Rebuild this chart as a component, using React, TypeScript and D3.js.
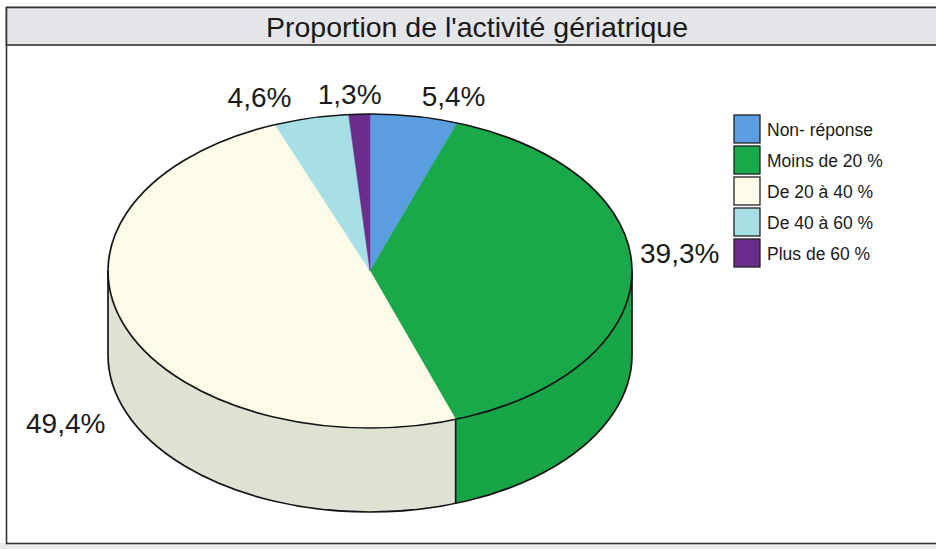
import React, { useEffect, useRef } from "react";
import * as d3 from "d3";

// chart data
const categories = ["Non- réponse", "Moins de 20 %", "De 20 à 40 %", "De 40 à 60 %", "Plus de 60 %"];
const shares = [5.4, 39.3, 49.4, 4.6, 1.3];
const chartTitle = "Proportion de l'activité gériatrique";

const topColors = ["#5B9EE0", "#19A94B", "#FDFBE8", "#A6DFE6", "#6A2D8C"];
const sideColors = ["#4A8BCB", "#17A548", "#DFE2D3", "#92CCD4", "#5A2478"];

const W = 936;
const H = 549;
const FONT = "'Liberation Sans', Arial, sans-serif";

const frLocale = d3.formatLocale({ decimal: ",", thousands: " ", grouping: [3], currency: ["", " €"] });
const fmtPct = (v: number) => frLocale.format(".1f")(v) + "%";

export default function App() {
  const ref = useRef<SVGSVGElement>(null);

  useEffect(() => {
    document.body.style.margin = "0";
    const svg = d3.select(ref.current);
    svg.selectAll("*").remove();

    // frame + title bar
    svg.append("rect").attr("x", 0).attr("y", 0).attr("width", W).attr("height", H).attr("fill", "#fff");
    svg.append("rect").attr("x", 0).attr("y", 543).attr("width", W).attr("height", 6).attr("fill", "#ebebeb");
    svg.append("rect")
      .attr("x", 6.5).attr("y", 7.5).attr("width", 990).attr("height", 536)
      .attr("fill", "#fff").attr("stroke", "#333").attr("stroke-width", 1.6);
    svg.append("rect")
      .attr("x", 6.5).attr("y", 7.5).attr("width", 990).attr("height", 37.5)
      .attr("fill", "#E4E6E9").attr("stroke", "#333").attr("stroke-width", 1.6);
    svg.append("text")
      .attr("x", 477).attr("y", 36.5)
      .attr("text-anchor", "middle")
      .style("font-family", FONT).style("font-size", "28.5px").attr("fill", "#1a1a1a")
      .text(chartTitle);

    // 3d pie geometry
    const cx = 370, cy = 271, rx = 262, ry = 157, depth = 84;
    const top = (a: number) => [cx + rx * Math.sin(a), cy - ry * Math.cos(a)];
    const bot = (a: number) => [cx + rx * Math.sin(a), cy + depth - ry * Math.cos(a)];

    const arcs = d3.pie<number>().sort(null).value((d) => d)(shares);

    const g = svg.append("g");

    // outer walls (front half only)
    arcs.forEach((d, i) => {
      const a = Math.max(d.startAngle, Math.PI / 2);
      const b = Math.min(d.endAngle, (3 * Math.PI) / 2);
      if (a >= b) return;
      const [x0, y0] = top(a), [x1, y1] = top(b);
      const [x2, y2] = bot(b), [x3, y3] = bot(a);
      g.append("path")
        .attr("d", `M${x0},${y0}A${rx},${ry} 0 0 1 ${x1},${y1}L${x2},${y2}A${rx},${ry} 0 0 0 ${x3},${y3}Z`)
        .attr("fill", sideColors[i]);
    });

    // top faces
    arcs.forEach((d, i) => {
      const [x0, y0] = top(d.startAngle), [x1, y1] = top(d.endAngle);
      const large = d.endAngle - d.startAngle > Math.PI ? 1 : 0;
      g.append("path")
        .attr("d", `M${cx},${cy}L${x0},${y0}A${rx},${ry} 0 ${large} 1 ${x1},${y1}Z`)
        .attr("fill", topColors[i])
        .attr("stroke", topColors[i]).attr("stroke-width", 0.5);
    });

    // outlines
    const ink = "#151515";
    g.append("ellipse")
      .attr("cx", cx).attr("cy", cy).attr("rx", rx).attr("ry", ry)
      .attr("fill", "none").attr("stroke", ink).attr("stroke-width", 1.7);
    const [bx0, by0] = bot(Math.PI / 2), [bx1, by1] = bot((3 * Math.PI) / 2);
    g.append("path")
      .attr("d", `M${bx0},${by0}A${rx},${ry} 0 0 1 ${bx1},${by1}`)
      .attr("fill", "none").attr("stroke", ink).attr("stroke-width", 1.7);
    const edges = [Math.PI / 2, (3 * Math.PI) / 2].concat(
      arcs.map((d) => d.endAngle).filter((a) => a > Math.PI / 2 && a < (3 * Math.PI) / 2)
    );
    edges.forEach((a) => {
      const [x0, y0] = top(a), [, y1] = bot(a);
      g.append("line")
        .attr("x1", x0).attr("y1", y0).attr("x2", x0).attr("y2", y1)
        .attr("stroke", ink).attr("stroke-width", 1.7);
    });

    // percentage labels
    const capH = 20;
    const clamp = (v: number) => Math.max(-1, Math.min(1, v));
    arcs.forEach((d, i) => {
      const m = (d.startAngle + d.endAngle) / 2;
      const s = Math.sin(m), c = Math.cos(m);
      const front = Math.max(0, Math.min(1, -3 * c));
      const px = cx + (rx + 8 + 100 * c * c) * s;
      const py = cy - (ry + 10) * c + front * depth - (1 - front) * 20 * s * s;
      const t = g.append("text")
        .style("font-family", FONT).style("font-size", "28px").attr("fill", "#1a1a1a")
        .text(fmtPct(shares[i]));
      const w = (t.node() as SVGTextElement).getComputedTextLength();
      const f = 0.5 - 0.5 * clamp(4 * s);
      const v = 0.5 + 0.5 * clamp(3 * c);
      t.attr("x", px - f * w).attr("y", py - v * capH + capH);
    });

    // legend
    const rows = d3.scaleBand<string>().domain(categories).range([114, 114 + 31 * categories.length]);
    const leg = svg.append("g");
    categories.forEach((name, i) => {
      const y = rows(name) as number;
      leg.append("rect")
        .attr("x", 734).attr("y", y + 1).attr("width", 26).attr("height", rows.bandwidth() - 3)
        .attr("fill", topColors[i]).attr("stroke", "#222").attr("stroke-width", 1.3);
      leg.append("text")
        .attr("x", 767).attr("y", y + rows.bandwidth() / 2 + 6)
        .style("font-family", FONT).style("font-size", "17.5px").attr("fill", "#1a1a1a")
        .text(name);
    });
  }, []);

  return <svg ref={ref} width={W} height={H} style={{ display: "block" }} />;
}
